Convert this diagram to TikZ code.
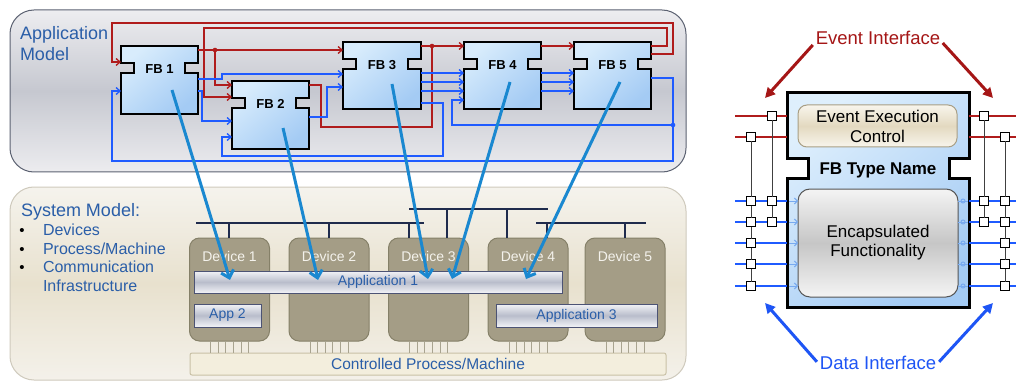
\documentclass[tikz,border=0pt]{standalone}
\usepackage{fontspec}
\setmainfont{Liberation Sans}
\usetikzlibrary{arrows.meta,calc}
\definecolor{evred}{HTML}{B01C1C}
\definecolor{datblue}{HTML}{1F5BFF}
\definecolor{txtblue}{HTML}{2A5EA8}
\definecolor{mapblue}{HTML}{1A88D0}
\definecolor{fbtop}{HTML}{D8ECFC}
\definecolor{fbbot}{HTML}{A4CBF4}
\definecolor{apptop}{HTML}{EDEDF0}
\definecolor{appmid}{HTML}{C6C8D0}
\definecolor{appbot}{HTML}{ECECEF}
\definecolor{appborder}{HTML}{5C6272}
\definecolor{systop}{HTML}{F5F3ED}
\definecolor{sysmid}{HTML}{E8E1CE}
\definecolor{sysbot}{HTML}{F4F1EA}
\definecolor{sysborder}{HTML}{CFCABD}
\definecolor{devfill}{HTML}{A49D86}
\definecolor{devborder}{HTML}{858068}
\definecolor{devtext}{HTML}{F4F2EC}
\definecolor{busblue}{HTML}{1F2B4C}
\definecolor{bartop}{HTML}{F2F3F7}
\definecolor{barmid}{HTML}{B9BDCB}
\definecolor{barborder}{HTML}{4C5374}
\definecolor{procfill}{HTML}{F3EEDD}
\definecolor{procborder}{HTML}{C9C1A6}
\definecolor{pingray}{HTML}{A8A38F}
\definecolor{eectop}{HTML}{F8F5EC}
\definecolor{eecmid}{HTML}{E3D9C0}
\definecolor{eecborder}{HTML}{A89E84}
\definecolor{enctop}{HTML}{F4F4F4}
\definecolor{encmid}{HTML}{C6C6C6}
\definecolor{encborder}{HTML}{555555}
\definecolor{eired}{HTML}{A51616}
\definecolor{diblue}{HTML}{1E55F5}
\definecolor{innerblue}{HTML}{78AAF0}

\tikzset{
  every node/.style={inner sep=0pt, outer sep=0pt},
  ev/.style={draw=evred, line width=1.3pt},
  dat/.style={draw=datblue, line width=1.3pt},
  barb/.style={-{Straight Barb[length=4pt,width=7pt]}},
  fbshape/.style={draw=black, line width=1.6pt, top color=fbtop, bottom color=fbbot, shading angle=40},
  fblabel/.style={font=\fontsize{13}{15}\selectfont\bfseries},
  apppanel/.style={draw=appborder, line width=1pt, rounded corners=24pt, top color=apptop, bottom color=appbot, middle color=appmid, minimum width=676pt, minimum height=162pt},
  syspanel/.style={draw=sysborder, line width=1pt, rounded corners=24pt, top color=systop, bottom color=sysbot, middle color=sysmid, minimum width=676pt, minimum height=193pt},
  bigtxt/.style={text=txtblue, font=\fontsize{18}{21}\selectfont},
  bultxt/.style={text=txtblue, font=\fontsize{16}{19}\selectfont},
  bulmark/.style={text=black, font=\fontsize{15}{18}\selectfont},
  device/.style={draw=devborder, line width=1pt, fill=devfill, rounded corners=10pt, minimum width=80pt, minimum height=103pt},
  devlabel/.style={text=devtext, font=\fontsize{14}{16}\selectfont},
  bus/.style={draw=busblue, line width=2pt},
  appbar/.style={draw=barborder, line width=1pt, top color=bartop, bottom color=bartop, middle color=barmid, text=txtblue, font=\fontsize{14}{16}\selectfont},
  procbar/.style={draw=procborder, line width=1pt, fill=procfill, rounded corners=2pt, text=txtblue, font=\fontsize{15.5}{18}\selectfont, minimum width=476pt, minimum height=22pt},
  pinline/.style={draw=pingray, line width=0.8pt},
  maparrow/.style={draw=mapblue, line width=3pt, -{Straight Barb[length=7pt,width=13pt]}},
  eec/.style={draw=eecborder, line width=1pt, rounded corners=9pt, top color=eectop, bottom color=eectop, middle color=eecmid, minimum width=159pt, minimum height=42pt, align=center, font=\fontsize{17}{20}\selectfont},
  enc/.style={draw=encborder, line width=1pt, rounded corners=12pt, top color=enctop, bottom color=enctop, middle color=encmid, minimum width=160pt, minimum height=108pt, align=center, font=\fontsize{17}{19}\selectfont},
  pinbox/.style={draw=black, line width=1pt, fill=white, minimum size=9pt},
  assoc/.style={draw=black!75, line width=1pt},
  evline/.style={draw=evred, line width=1.2pt},
  datline/.style={draw=datblue, line width=1.5pt},
  innerline/.style={draw=innerblue, line width=1pt},
  eiarrow/.style={draw=eired, line width=3pt, -{Triangle[length=10pt,width=10pt]}},
  diarrow/.style={draw=diblue, line width=3pt, -{Triangle[length=10pt,width=10pt]}},
  eitext/.style={text=eired, font=\fontsize{18.5}{21}\selectfont},
  ditext/.style={text=diblue, font=\fontsize{18.5}{21}\selectfont}
}

% name, x, y, w, h, notch offset, label
\newcommand\fbblock[7]{%
  \node[minimum width=#4pt, minimum height=#5pt, anchor=north west] (#1) at (#2,#3) {};
  \shadedraw[fbshape] (#1.north west) -- (#1.north east) -- ($(#1.north east)+(0,#6)$) -- ++(-13,0) -- ++(0,10) -- ++(13,0) -- (#1.south east) -- (#1.south west) -- ($(#1.north west)+(0,#6+10)$) -- ++(13,0) -- ++(0,-10) -- ++(-13,0) -- cycle;
  \node[fblabel] (#1l) at ($(#1.north)+(0,#6+6)$) {#7};
}

\begin{document}
\begin{tikzpicture}[x=1pt,y=-1pt]
\useasboundingbox (0,0) rectangle (1016,382);
\fill[white] (0,0) rectangle (1016,382);

% ---------- panels ----------
\node[apppanel] (appm) at (348,91) {};
\node[syspanel] (sysm) at (348,283.5) {};

\node[bigtxt, anchor=base west] (amt1) at (20,40) {Application};
\node[bigtxt, anchor=base west] (amt2) at (20,61) {Model};

% ---------- FB blocks ----------
\fbblock{fb1}{121}{46}{77}{68}{17}{FB 1}
\fbblock{fb2}{232}{81}{77}{68}{17}{FB 2}
\fbblock{fb3}{343}{42}{78}{67}{17}{FB 3}
\fbblock{fb4}{464}{42}{77}{67}{17}{FB 4}
\fbblock{fb5}{574}{42}{77}{67}{17}{FB 5}

% ---------- event connections ----------
\draw[ev,barb] (fb5.east |- 0,54) -- (673,54) -- (673,23) -- (112,23) -- (112,62) -- (fb1.west |- 0,62);
\draw[ev,barb] (fb5.east |- 0,46) -- (667,46) -- (667,28) -- (204,28) -- (204,97) -- (fb2.west |- 0,97);
\draw[ev,barb] (fb1.east |- 0,50) -- (fb3.west |- 0,50);
\fill[evred] (215,50) circle[radius=2.3pt];
\draw[ev,barb] (215,50) -- (215,85) -- (fb2.west |- 0,85);
\draw[ev,barb] (fb3.east |- 0,46) -- (fb4.west |- 0,46);
\fill[evred] (432,46) circle[radius=2.3pt];
\draw[ev] (432,46) -- (432,127) -- (321,127) -- (321,85) -- (fb2.east |- 0,85);
\draw[ev,barb] (fb4.east |- 0,46) -- (fb5.west |- 0,46);

% ---------- data connections ----------
\draw[dat,barb] (fb1.east |- 0,79) -- (222,79) -- (222,74) -- (fb3.west |- 0,74);
\draw[dat,barb] (fb1.east |- 0,91) -- (202,91) -- (202,121) -- (fb2.west |- 0,121);
\draw[dat,barb] (fb2.east |- 0,117) -- (327,117) -- (327,87) -- (fb3.west |- 0,87);
\draw[dat,barb] (fb5.east |- 0,78) -- (673,78) -- (673,161) -- (112,161) -- (112,91) -- (fb1.west |- 0,91);
\fill[datblue] (673,125) circle[radius=2.3pt];
\draw[dat,barb] (673,125) -- (452,125) -- (452,100) -- (fb4.west |- 0,100);
\draw[dat,barb] (fb3.east |- 0,103) -- (443,103) -- (443,156) -- (222,156) -- (222,137) -- (fb2.west |- 0,137);
\foreach \y in {73,82,91} {
  \draw[dat,barb] (fb3.east |- 0,\y) -- (fb4.west |- 0,\y);
  \draw[dat,barb] (fb4.east |- 0,\y) -- (fb5.west |- 0,\y);
}

% ---------- system model text ----------
\node[bigtxt, anchor=base west] (smt) at (21,216) {System Model:};
\node[bulmark, anchor=base west] (bm1) at (19.5,235) {•};
\node[bulmark, anchor=base west] (bm2) at (19.5,254) {•};
\node[bulmark, anchor=base west] (bm3) at (19.5,272.5) {•};
\node[bultxt, anchor=base west] (bt1) at (43,235) {Devices};
\node[bultxt, anchor=base west] (bt2) at (43,254) {Process/Machine};
\node[bultxt, anchor=base west] (bt3) at (43,272.5) {Communication};
\node[bultxt, anchor=base west] (bt4) at (43,291) {Infrastructure};

% ---------- devices ----------
\node[device] (d1) at (229.5,289.5) {};
\node[device] (d2) at (329,289.5) {};
\node[device] (d3) at (428.5,289.5) {};
\node[device] (d4) at (528,289.5) {};
\node[device] (d5) at (625,289.5) {};
\foreach \n/\t in {d1/Device 1,d2/Device 2,d3/Device 3,d4/Device 4,d5/Device 5} {
  \node[devlabel, anchor=base] (\n l) at ($(\n.north)+(0,23)$) {\t};
}

% ---------- buses ----------
\coordinate (busAw) at (196,223); \coordinate (busAe) at (424,223);
\coordinate (busBw) at (409,209); \coordinate (busBe) at (548,209);
\coordinate (busCw) at (536,223); \coordinate (busCe) at (646,223);
\draw[bus] (busAw) -- (busAe);
\draw[bus] (busBw) -- (busBe);
\draw[bus] (busCw) -- (busCe);
\draw[bus] (229,223) -- (d1.north -| 229,0);
\draw[bus] (329,223) -- (d2.north -| 329,0);
\draw[bus] (409,223) -- (d3.north -| 409,0);
\draw[bus] (447,209) -- (d3.north -| 447,0);
\draw[bus] (507,209) -- (d4.north -| 507,0);
\draw[bus] (547,223) -- (d4.north -| 547,0);
\draw[bus] (625,223) -- (d5.north -| 625,0);

% ---------- process ----------
\node[procbar] (proc) at (428,364) {Controlled Process/Machine};
\foreach \n in {d1,d2,d3,d4,d5} {
  \foreach \k in {0,...,5} {
    \draw[pinline] ($(\n.south)+(-19+\k*7.6,1)$) -- ($(proc.north -| \n.south)+(-19+\k*7.6,0)$);
  }
}

% ---------- application bars ----------
\node[appbar, minimum width=368pt, minimum height=22pt] (app1) at (378,282) {Application 1};
\node[appbar, minimum width=67pt, minimum height=23pt] (app2) at (227.5,315.5) {App 2};
\node[appbar, minimum width=161pt, minimum height=23pt] (app3) at (576.5,315.5) {Application 3};

% ---------- FB type (right) ----------
\node[minimum width=182pt, minimum height=214pt, anchor=north west] (fbt) at (787,93) {};
\shadedraw[fbshape, line width=3pt, top color=fbtop!85!white, bottom color=fbbot, shading angle=40] (fbt.north west) -- (fbt.north east) -- ($(fbt.north east)+(0,66)$) -- ++(-20,0) -- ++(0,19) -- ++(20,0) -- (fbt.south east) -- (fbt.south west) -- ($(fbt.north west)+(0,85)$) -- ++(21,0) -- ++(0,-19) -- ++(-21,0) -- cycle;
\node[eec] (eecn) at (877.5,126) {Event Execution\\Control};
\node[font=\fontsize{17}{20}\selectfont\bfseries] (fbtn) at (878,170) {FB Type Name};
\node[enc] (encn) at (878,243) {Encapsulated\\Functionality};

% event lines
\foreach \y in {116,137} {
  \draw[evline] (735,\y) -- (fbt.west |- 0,\y);
  \draw[evline] (fbt.east |- 0,\y) -- (1016,\y);
}
% data lines
\foreach \y in {201,222,243,264,286} {
  \draw[datline] (735,\y) -- (fbt.west |- 0,\y);
  \draw[datline] (fbt.east |- 0,\y) -- (1016,\y);
  \draw[innerline, -{Straight Barb[length=3pt,width=6pt]}] (fbt.west |- 0,\y) ++(1.5,0) -- (encn.west |- 0,\y);
  \draw[innerline] (encn.east |- 0,\y) -- ($(fbt.east |- 0,\y)+(-1.5,0)$);
  \draw[innerline] (963,\y) circle[radius=2pt];
}

% pins left
\node[pinbox] (pel1) at (772,116) {};
\node[pinbox] (pel2) at (751,137) {};
\foreach \y [count=\i] in {201,222,243,264,286} { \node[pinbox] (pla\i) at (751,\y) {}; }
\node[pinbox] (plb1) at (772,201) {};
\node[pinbox] (plb2) at (772,222) {};
% pins right
\node[pinbox] (per1) at (984,116) {};
\node[pinbox] (per2) at (1005,137) {};
\foreach \y [count=\i] in {201,222,243,264,286} { \node[pinbox] (pra\i) at (1005,\y) {}; }
\node[pinbox] (prb1) at (984,201) {};
\node[pinbox] (prb2) at (984,222) {};
% associations
\draw[assoc] (pel1) -- (plb1) -- (plb2);
\draw[assoc] (pel2) -- (pla1) -- (pla2) -- (pla3) -- (pla4) -- (pla5);
\draw[assoc] (per1) -- (prb1) -- (prb2);
\draw[assoc] (per2) -- (pra1) -- (pra2) -- (pra3) -- (pra4) -- (pra5);

% interface labels
\node[eitext] (evi) at (878,37.5) {Event Interface};
\node[ditext] (dai) at (878,363.3) {Data Interface};
\coordinate (eil) at (765,98);
\coordinate (eir) at (993,98);
\coordinate (dil) at (765,303);
\coordinate (dir) at (993,303);
\draw[eiarrow] ($(evi.west)+(-3,7.5)$) -- (eil);
\draw[eiarrow] ($(evi.east)+(2.5,5.5)$) -- (eir);
\draw[diarrow] ($(dai.west)+(-3,-1.5)$) -- (dil);
\draw[diarrow] ($(dai.east)+(3,-1.5)$) -- (dir);

% ---------- mapping arrows ----------
\coordinate (m1s) at (172,90);  \coordinate (m1e) at (230,280);
\coordinate (m2s) at (283,128); \coordinate (m2e) at (318,280);
\coordinate (m3s) at (392,84);  \coordinate (m3e) at (428,279);
\coordinate (m4s) at (510,82);  \coordinate (m4e) at (452,279);
\coordinate (m5s) at (620,82);  \coordinate (m5e) at (526,279);
\foreach \i in {1,...,5} { \draw[maparrow] (m\i s) -- (m\i e); }
\end{tikzpicture}
\end{document}
